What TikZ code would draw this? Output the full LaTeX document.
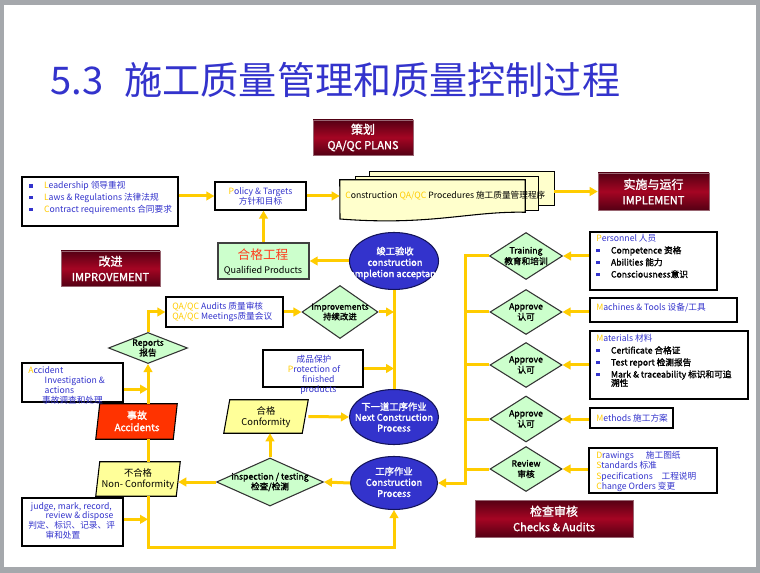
\documentclass[tikz,border=0pt]{standalone}
\usepackage{fontspec}
\setmainfont{Noto Sans CJK SC}[AutoFakeBold=1.6]
\usetikzlibrary{arrows.meta,shapes.geometric,calc}
\definecolor{gold}{RGB}{255,204,0}
\definecolor{tblue}{RGB}{51,51,204}
\definecolor{eblue}{RGB}{51,51,204}
\definecolor{eborder}{RGB}{20,20,90}
\definecolor{lgreen}{RGB}{204,255,204}
\definecolor{pyel}{RGB}{255,255,153}
\definecolor{dyel}{RGB}{255,255,204}
\definecolor{accred}{RGB}{255,51,0}
\definecolor{qred}{RGB}{255,60,30}
\definecolor{bdark}{RGB}{85,0,20}
\definecolor{bmid}{RGB}{165,5,35}
\definecolor{framegray}{RGB}{165,168,172}
\newcommand\goldl[1]{\textcolor{gold}{#1}}
\newcommand\fsz[2]{\fontsize{#1}{#2}\selectfont}
\newcommand\bul{\textcolor{tblue}{\rule[0.3ex]{0.4em}{0.4em}}\hspace{1.3em}}
\newcommand\pxbox[7]{\node[#6, minimum width={(#4-#2)*0.75pt}, minimum height={(#5-#3)*0.75pt}] (#1) at ({(#2+#4)/2},{(#3+#5)/2}) {#7};}
\tikzset{
 conn/.style={draw=gold, line width=2.25pt},
 arr/.style={conn, -{Triangle[length=6pt,width=6.5pt]}},
 wbox/.style={draw=black, line width=1pt, fill=white, inner sep=0pt},
 qbox/.style={draw=black!75, line width=1pt, fill=lgreen, inner sep=0pt},
 dia/.style={diamond, draw=black!80, line width=0.8pt, fill=lgreen, inner sep=0pt},
 ell/.style={ellipse, draw=eborder, line width=0.8pt, fill=eblue, inner sep=0pt},
 ghost/.style={inner sep=0pt},
 banner/.style={inner sep=0pt, top color=bdark, bottom color=bdark, middle color=bmid, draw=bdark!60, line width=0.4pt, text=white, font=\bfseries\fsz{9}{11.5}, align=center},
 txt/.style={inner sep=0pt, align=left, font=\fsz{6.5}{9}},
 ctxt/.style={inner sep=0pt, align=center, font=\fsz{6.5}{8}},
 dtxt/.style={inner sep=0pt, align=center, font=\bfseries\fsz{6.5}{8}},
 etxt/.style={inner sep=0pt, align=center, text=white, font=\bfseries\fsz{7}{8.4}},
 para/.style={draw=black, line width=0.8pt},
}
\begin{document}
\begin{tikzpicture}[x=0.75pt,y=-0.75pt]
\useasboundingbox (0,0) rectangle (760,573);
\fill[framegray] (0,0) rectangle (760,573);
\fill[white] (4,5) rectangle (756,567);

% title
\node[anchor=west, inner sep=0pt, text=tblue, font=\fsz{28.6}{30}] (title) at (50,80) {5.3\hspace{16pt}施工质量管理和质量控制过程};

% banners
\pxbox{plans}{313}{120}{413}{155}{banner}{策划\\{\fsz{8.3}{11.5}QA/QC PLANS}}
\pxbox{impl}{598}{173}{709}{210}{banner}{实施与运行\\{\fsz{8.3}{11.5}IMPLEMENT}}
\pxbox{impr}{61}{251}{160}{286}{banner}{改进\\{\fsz{8.3}{11.5}IMPROVEMENT}}
\pxbox{chk}{475}{500}{633}{537}{banner}{检查审核\\{\fsz{8.3}{11.5}Checks \& Audits}}

% procedures document stack
\pxbox{procb}{370}{172}{554}{205}{ghost}{}
\pxbox{procm}{356}{177}{538}{210}{ghost}{}
\pxbox{proc}{340}{180}{525}{212}{ghost}{}
\draw[fill=dyel, line width=0.8pt] (procb.north west) rectangle (procb.south east);
\draw[fill=dyel, line width=0.8pt] (procm.north west) rectangle (procm.south east);
\draw[fill=dyel, line width=0.8pt] (proc.north west) -- (proc.north east) -- (proc.south east)
  .. controls (470,211) and (430,226) .. (340,219) -- cycle;

% boxes
\pxbox{lead}{22}{177}{178}{226}{wbox}{}
\pxbox{pol}{215}{182}{306}{210}{wbox}{}
\pxbox{qual}{218}{243}{309}{279}{qbox}{}
\pxbox{aud}{166}{297}{283}{327}{wbox}{}
\pxbox{accb}{22}{363}{123}{402}{wbox}{}
\pxbox{prot}{263}{350}{363}{387}{wbox}{}
\pxbox{judge}{22}{498}{123}{546}{wbox}{}
\pxbox{pers}{590}{232}{717}{290}{wbox}{}
\pxbox{mach}{590}{298}{737}{322}{wbox}{}
\pxbox{mat}{590}{331}{748}{399}{wbox}{}
\pxbox{meth}{590}{408}{673}{428}{wbox}{}
\pxbox{drw}{589}{448}{717}{493}{wbox}{}

% parallelograms
\pxbox{acc}{96}{404}{177}{439}{ghost}{}
\draw[para, fill=accred] ($(acc.north west)+(4,0)$) -- (acc.north east) -- ($(acc.south east)+(-4,0)$) -- (acc.south west) -- cycle;
\pxbox{conf}{224}{400}{308}{433}{ghost}{}
\draw[para, fill=pyel] ($(conf.north west)+(6,0)$) -- (conf.north east) -- ($(conf.south east)+(-6,0)$) -- (conf.south west) -- cycle;
\pxbox{nc}{96}{462}{180}{496}{ghost}{}
\draw[para, fill=pyel] ($(nc.north west)+(4,0)$) -- (nc.north east) -- ($(nc.south east)+(-4,0)$) -- (nc.south west) -- cycle;

% diamonds
\node[dia, minimum width=54.75pt, minimum height=35.25pt] (train) at (526,256) {};
\node[dia, minimum width=54pt, minimum height=33.75pt] (app1) at (526,312) {};
\node[dia, minimum width=54pt, minimum height=33.75pt] (app2) at (526,365) {};
\node[dia, minimum width=54pt, minimum height=34.5pt] (app3) at (526,419) {};
\node[dia, minimum width=54pt, minimum height=33.75pt] (rev) at (526,469) {};
\node[dia, minimum width=57pt, minimum height=39.75pt] (imp) at (340,312) {};
\node[dia, minimum width=59.25pt, minimum height=23.25pt] (rep) at (148,348) {};
\node[dia, minimum width=80.25pt, minimum height=36pt] (insp) at (270,482) {};

% ellipses
\node[ell, minimum width=66.75pt, minimum height=42.75pt] (comp) at (394,261) {};
\node[ell, minimum width=66.75pt, minimum height=41.25pt] (next) at (394,417) {};
\node[ell, minimum width=65.25pt, minimum height=39.75pt] (cons) at (394,483) {};

% connectors
\draw[arr] (lead.east |- pol.west) -- (pol.west);
\draw[arr] (pol.east) -- (pol.east -| proc.west);
\draw[arr] (procb.east |- impl.west) -- (impl.west);
\draw[arr] (qual.north) -- (qual.north |- pol.south);
\draw[arr] (comp.west) -- (qual.east);
\draw[conn] (next.north) -- (comp.south);
\draw[arr] (imp.east) -- (imp.east -| comp.south);
\draw[arr] (prot.east) -- (prot.east -| comp.south);
\draw[arr] (aud.east) -- (imp.west);
\draw[arr] (rep.north) |- (aud.west);
\draw[arr] (rep.south |- acc.north) -- (rep.south);
\draw[arr] ([yshift=-5pt]accb.east) -- ([yshift=-5pt]accb.east -| rep.south);
\draw[conn] (rep.south |- nc.north) -- (rep.south |- acc.south);
\draw[arr] (insp.west) -- ([xshift=-1.5pt]insp.west -| nc.east);
\draw[arr] (insp.north) -- (insp.north |- conf.south);
\draw[arr] (conf.east) -- (next.west);
\draw[arr] (cons.west) -- (insp.east);
\draw[arr] ([yshift=2pt]judge.east) -- ([yshift=2pt]judge.east -| rep.south);
\coordinate (bl) at (148,547);
\draw[arr] (rep.south |- nc.south) -- (bl) -| (cons.south);
\coordinate (rv) at (465,483);
\draw[arr] (train.west) -| (rv) -- (cons.east);
\draw[conn] (app1.west) -- (app1.west -| rv);
\draw[conn] (app2.west) -- (app2.west -| rv);
\draw[conn] (app3.west) -- (app3.west -| rv);
\draw[conn] (rev.west) -- (rev.west -| rv);
\draw[arr] (pers.west |- train.east) -- (train.east);
\draw[arr] (mach.west |- app1.east) -- (app1.east);
\draw[arr] (mat.west |- app2.east) -- (app2.east);
\draw[arr] (meth.west |- app3.east) -- (app3.east);
\draw[arr] (drw.west |- rev.east) -- (rev.east);

% texts
\node[txt, anchor=west] (proc-t) at (345,196) {\goldl{C}onstruction \goldl{QA/QC} Procedures 施工质量管理程序};
\node[txt, anchor=west, text=tblue, font=\fsz{6.5}{8.8}] (lead-t) at (29,198) {\bul\goldl{L}eadership 领导重视\\\bul\goldl{L}aws \& Regulations 法律法规\\\bul\goldl{C}ontract requirements 合同要求};
\node[ctxt, text=tblue, font=\fsz{6.5}{7.5}] (pol-t) at (pol) {\goldl{P}olicy \& Targets\\方针和目标};
\node[ctxt, font=\fsz{6.8}{10}] (qual-t) at (263,262) {{\fsz{9.5}{10}\textcolor{qred}{合格工程}}\\Qualified Products};
\node[etxt] (comp-t) at (395,263) {竣工验收\\construction\\completion acceptance};
\node[dtxt, font=\bfseries\fsz{6.5}{7}] (train-t) at (train) {Training\\教育和培训};
\node[txt, anchor=north west] (pers-t) at (596,234) {\textcolor{tblue}{\goldl{P}ersonnel 人员}\\\bul{\bfseries Competence 资格}\\\bul{\bfseries Abilities 能力}\\\bul{\bfseries Consciousness意识}};
\node[txt, anchor=west, text=tblue] (mach-t) at (596,308) {\goldl{M}achines \& Tools 设备/工具};
\node[txt, anchor=north west] (mat-t) at (596,334) {\textcolor{tblue}{\goldl{M}aterials 材料}\\\bul{\bfseries Certificate 合格证}\\\bul{\bfseries Test report 检测报告}\\\bul{\bfseries Mark \& traceability 标识和可追}\\[-2.5pt]\hphantom{\bul}{\bfseries 溯性}};
\node[txt, anchor=west, text=tblue] (meth-t) at (596,418) {\goldl{M}ethods 施工方案};
\node[txt, anchor=north west, text=tblue, font=\fsz{6.5}{7.8}] (drw-t) at (596,451) {\goldl{D}rawings\hspace{1.4em}施工图纸\\\goldl{S}tandards 标准\\\goldl{S}pecifications\hspace{1em}工程说明\\\goldl{C}hange Orders 变更};
\node[dtxt] (app1-t) at (app1) {Approve\\认可};
\node[dtxt] (app2-t) at (app2) {Approve\\认可};
\node[dtxt] (app3-t) at (app3) {Approve\\认可};
\node[dtxt] (rev-t) at (rev) {Review\\审核};
\node[dtxt, font=\bfseries\fsz{6.3}{7.5}] (imp-t) at (imp) {Improvements\\持续改进};
\node[dtxt, font=\bfseries\fsz{6.5}{7.5}] (rep-t) at (rep) {Reports\\报告};
\node[dtxt, font=\bfseries\fsz{6.5}{7.5}] (insp-t) at (insp) {inspection / testing\\检查/检测};
\node[txt, anchor=west, text=tblue, font=\fsz{6.5}{7.6}] (aud-t) at (172,312) {\goldl{QA/QC} Audits 质量审核\\\goldl{QA/QC} Meetings质量会议};
\node[txt, anchor=north west, text=tblue, font=\fsz{6.5}{7.5}] (accb-t) at (28,366) {\goldl{A}ccident\\\hspace{1.9em}Investigation \&\\\hspace{1.9em}actions\\\hspace{1.6em}事故调查和处理};
\node[etxt, font=\bfseries\fsz{7.5}{9}] (acc-t) at (137,421) {事故\\Accidents};
\node[ctxt, text=tblue, font=\fsz{6.5}{7.5}] (prot-t) at (314,375) {成品保护\\\goldl{P}rotection of\\\hspace{1em}finished\\\hspace{1em}products};
\node[ctxt, font=\fsz{7}{8.5}] (conf-t) at (266,417) {合格\\Conformity};
\node[ctxt, font=\fsz{7}{8.5}] (nc-t) at (138,479) {不合格\\Non- Conformity};
\node[etxt, font=\bfseries\fsz{7}{8}] (next-t) at (394,417) {下一道工序作业\\Next Construction\\Process};
\node[etxt, font=\bfseries\fsz{7}{8.3}] (cons-t) at (394,482) {工序作业\\Construction\\Process};
\node[txt, anchor=north west, text=tblue, font=\fsz{6.5}{7.3}] (judge-t) at (28,502) {\hspace{0.3em}judge, mark, record,\\\hspace{2em}review \& dispose\\判定、标识、记录、评\\\hspace{2em}审和处置};
\end{tikzpicture}
\end{document}
